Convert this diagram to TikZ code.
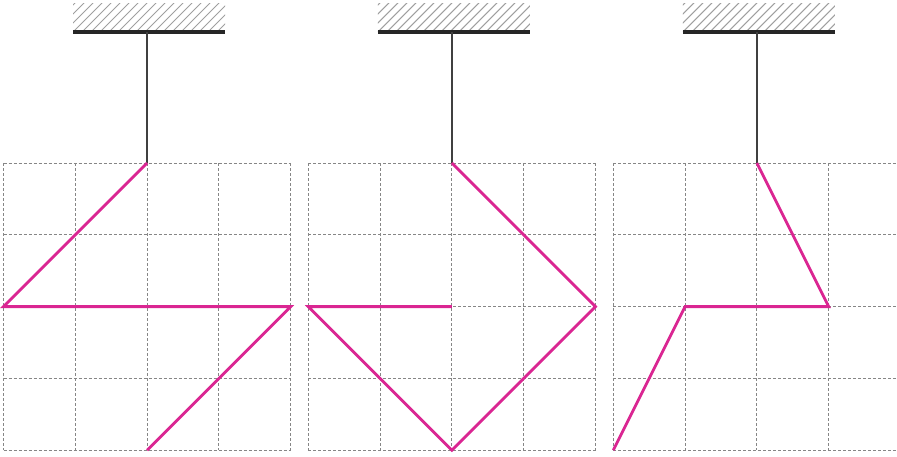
\documentclass[tikz,border=0pt]{standalone}
\definecolor{ropecol}{RGB}{218,38,146}
\tikzset{
  gridline/.style={gray!95, line width=0.9pt, dash pattern=on 3pt off 2pt},
  hatch/.style={gray!75, line width=1pt},
  wall/.style={black!85, line width=3.8pt},
  rod/.style={black!75, line width=1.6pt},
  rope/.style={ropecol, line width=2.8pt}
}
\begin{document}
\begin{tikzpicture}[x=1pt,y=-1pt]
  \useasboundingbox (0,0) rectangle (897,456);
  \foreach \ox [count=\n] in {3.5,308.3,613.3} {
    \begin{scope}[xshift=\ox pt]
      % dashed grid
      \foreach \k in {0,...,4} {
        \draw[gridline] (\k*71.8,163) -- (\k*71.8,450.2);
        \draw[gridline] (0,163+\k*71.8) -- (287.2,163+\k*71.8);
      }
      \foreach \i in {0,...,4}
        \foreach \j in {0,...,4}
          \coordinate (g\n-\i-\j) at (\i*71.8,163+\j*71.8);
      % ceiling
      \begin{scope}
        \clip (69.5,3) rectangle (221.5,32);
        \foreach \h in {-36,-27,...,160}
          \draw[hatch] (69.5+\h,32) -- ++(32,-32);
      \end{scope}
      \draw[wall] (69.5,32) -- (221.5,32);
      \coordinate (top\n) at (143.6,32);
      \draw[rod] (top\n) -- (g\n-2-0);
    \end{scope}
  }
  \draw[rope] (g1-2-0) -- (g1-0-2) -- (g1-4-2) -- (g1-2-4);
  \draw[rope] (g2-2-0) -- (g2-4-2) -- (g2-2-4) -- (g2-0-2) -- (g2-2-2);
  \draw[rope] (g3-2-0) -- (g3-3-2) -- (g3-1-2) -- (g3-0-4);
\end{tikzpicture}
\end{document}
